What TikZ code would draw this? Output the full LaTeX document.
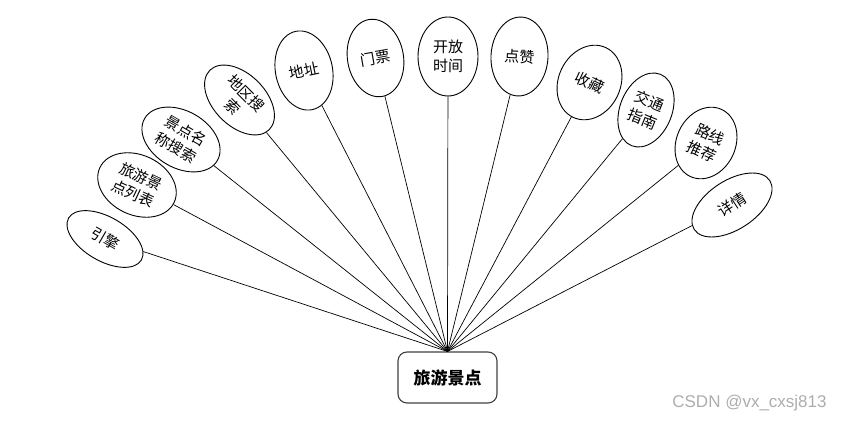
\documentclass[tikz,border=0pt]{standalone}
\usepackage{fontspec}
\newfontfamily\cjk{Noto Sans CJK SC}
\setsansfont{Liberation Sans}
\usetikzlibrary{shapes.geometric}
\begin{document}
\begin{tikzpicture}[x=1pt,y=1pt,
  oval/.style={ellipse, draw, line width=0.9pt, inner sep=0pt, font=\cjk\fontsize{15}{19}\selectfont, align=center},
  hubbox/.style={draw=black!75, line width=1.1pt, rounded corners=9pt, minimum width=99pt, minimum height=51pt, font=\cjk\bfseries\fontsize{17}{20}\selectfont},
  link/.style={line width=0.7pt}]
\useasboundingbox (0,0) rectangle (846,421);
\node[hubbox] (hub) at (447.5,43.5) {旅游景点};
\node[oval, minimum width=84pt, minimum height=44pt, rotate=-30] (e1) at (105,182) {引擎};
\node[oval, minimum width=82pt, minimum height=60pt, rotate=-25] (e2) at (137,236) {旅游景\\点列表};
\node[oval, minimum width=84pt, minimum height=57pt, rotate=-30] (e3) at (181,281.5) {景点名\\称搜索};
\node[oval, minimum width=84pt, minimum height=52pt, rotate=-45] (e4) at (239.5,321) {地区搜\\索};
\node[oval, minimum width=57pt, minimum height=80pt, rotate=12] (e5) at (304,350.5) {地址};
\node[oval, minimum width=56pt, minimum height=78pt, rotate=10] (e6) at (375.5,363) {门票};
\node[oval, minimum width=60pt, minimum height=79pt] (e7) at (448,364.5) {开放\\时间};
\node[oval, minimum width=57pt, minimum height=79pt, rotate=-3] (e8) at (519.5,364.5) {点赞};
\node[oval, minimum width=62pt, minimum height=77pt, rotate=-25] (e9) at (589.5,338.5) {收藏};
\node[oval, minimum width=52pt, minimum height=77pt, rotate=-22] (e10) at (646,311) {交通\\指南};
\node[oval, minimum width=59pt, minimum height=74pt, rotate=-25] (e11) at (706,278) {路线\\推荐};
\node[oval, minimum width=90pt, minimum height=49pt, rotate=33] (e12) at (732,216) {详情};
\foreach \i in {1,...,12} {\draw[link] (hub.north) -- (e\i);}
\node[font=\sffamily\fontsize{17}{19}\selectfont, text=black!32] (wm) at (749.5,18) {CSDN @vx\_cxsj813};
\end{tikzpicture}
\end{document}
